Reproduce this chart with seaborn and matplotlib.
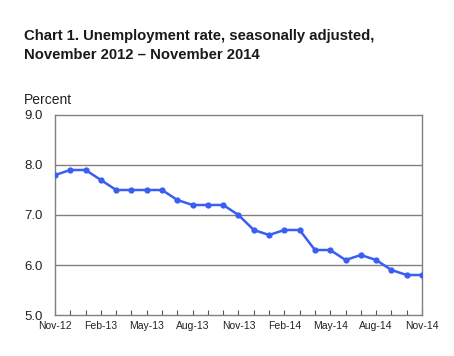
import numpy as np
import pandas as pd
import seaborn as sns
import matplotlib
matplotlib.use("Agg")
import matplotlib.pyplot as plt
from matplotlib.ticker import MultipleLocator

months = ["Nov-12", "Dec-12", "Jan-13", "Feb-13", "Mar-13", "Apr-13", "May-13", "Jun-13",
          "Jul-13", "Aug-13", "Sep-13", "Oct-13", "Nov-13", "Dec-13", "Jan-14", "Feb-14",
          "Mar-14", "Apr-14", "May-14", "Jun-14", "Jul-14", "Aug-14", "Sep-14", "Oct-14", "Nov-14"]
rate = [7.8, 7.9, 7.9, 7.7, 7.5, 7.5, 7.5, 7.5, 7.3, 7.2, 7.2, 7.2, 7.0, 6.7, 6.6, 6.7,
        6.7, 6.3, 6.3, 6.1, 6.2, 6.1, 5.9, 5.8, 5.8]
tick_labels = ["Nov-12", "Feb-13", "May-13", "Aug-13", "Nov-13", "Feb-14", "May-14", "Aug-14", "Nov-14"]
y_ticks = [5.0, 6.0, 7.0, 8.0, 9.0]

sns.set_theme(style="white")
plt.rcParams['font.family'] = ['Liberation Sans', 'DejaVu Sans']

df = pd.DataFrame({"idx": np.arange(len(months)), "month": months, "rate": rate})

fig = plt.figure(figsize=(4.54, 3.56), dpi=100)
ax = fig.add_axes([55/454, 41/356, 367/454, 200/356])

for y in y_ticks[1:-1]:
    ax.axhline(y, color="#808080", lw=1.0, zorder=1)

sns.lineplot(data=df, x="idx", y="rate", ax=ax, color="#3a5ef2", lw=1.8,
             marker="o", markersize=4.5, markeredgewidth=0, zorder=3)

ax.set_xlim(0, len(months) - 1)
ax.set_ylim(5.0, 9.0)
ax.set_yticks(y_ticks)
ax.set_yticklabels([f"{v:.1f}" for v in y_ticks], fontsize=9.5, color="#222222")
tick_pos = [months.index(m) for m in tick_labels]
ax.set_xticks(tick_pos)
ax.set_xticklabels(tick_labels, fontsize=7.5, color="#222222")
ax.xaxis.set_minor_locator(MultipleLocator(1))
ax.tick_params(axis="x", which="both", direction="in", length=3.5, width=0.8,
               color="#555555", bottom=True, pad=4)
ax.tick_params(axis="y", length=0, pad=9)
ax.set_xlabel("")
ax.set_ylabel("")
for s in ax.spines.values():
    s.set_color("#808080")
    s.set_linewidth(1.0)

fig.text(24/454, 1 - 40/356, "Chart 1. Unemployment rate, seasonally adjusted,",
         fontsize=10.7, fontweight="bold", color="#1a1a1a", ha="left", va="baseline")
fig.text(24/454, 1 - 59/356, "November 2012 \u2013 November 2014",
         fontsize=10.7, fontweight="bold", color="#1a1a1a", ha="left", va="baseline")
fig.text(24/454, 1 - 104/356, "Percent", fontsize=10, color="#222222", ha="left", va="baseline")

fig.savefig("out.png", dpi=100)
